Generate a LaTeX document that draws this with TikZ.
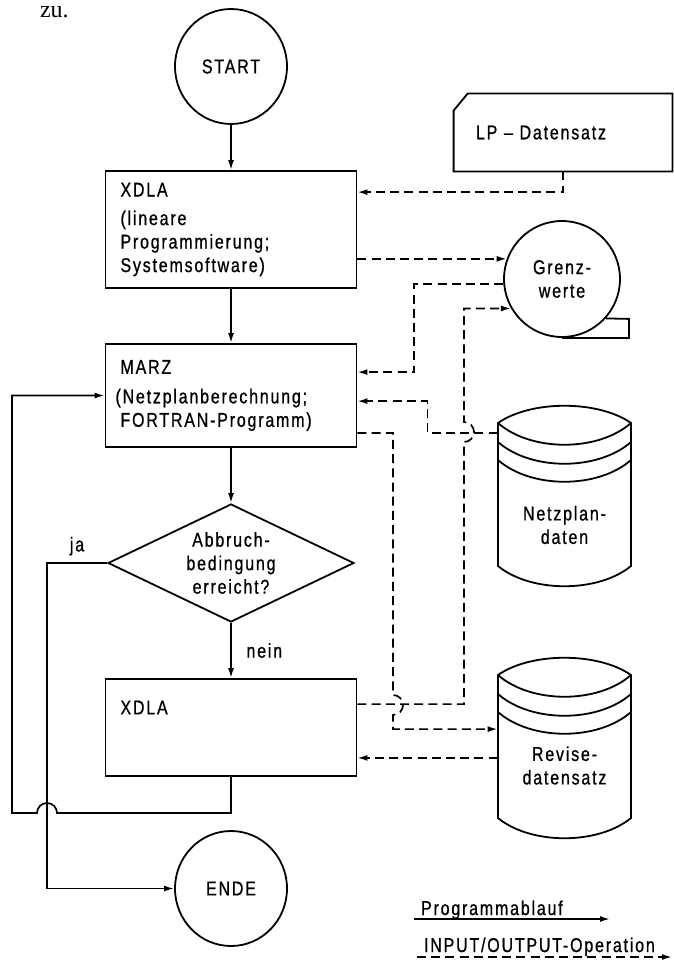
\documentclass[tikz,border=0pt]{standalone}
\usepackage{fontspec}
\setmainfont{Liberation Sans}[FakeStretch=0.8, LetterSpace=9, FakeBold=0.8]
\newfontfamily\bookfont{Liberation Serif}
\usetikzlibrary{arrows.meta, shapes.geometric, calc}

\tikzset{
  proc/.style={draw, line width=0.9pt, minimum width=125.5pt, text width=110.5pt, inner xsep=7.5pt, align=left},
  term/.style={draw, ellipse, line width=0.9pt, minimum width=56pt, minimum height=57.5pt, inner sep=0pt},
  decide/.style={draw, diamond, line width=0.9pt, aspect=2.08, minimum width=123pt, minimum height=59pt, inner sep=0pt, align=center},
  tape/.style={draw, circle, line width=0.9pt, minimum size=58pt, inner sep=0pt, align=center},
  drumtext/.style={minimum width=66.5pt, inner sep=0pt, align=center},
  flow/.style={line width=0.85pt, -{Latex[length=5pt,width=3pt]}},
  io/.style={flow, dash pattern=on 4.5pt off 2.6pt},
}

\begin{document}
\begin{tikzpicture}[x=0.5pt, y=-0.5pt, font=\fontsize{10}{11.75}\selectfont]
\useasboundingbox (0,0) rectangle (674,963);

\node[anchor=base west, font=\bookfont\fontsize{12}{14}\selectfont] (zu) at (33,18) {zu.};

% Programmablauf
\node[term] (start) at (231,66.5) {START};
\node[proc, minimum height=58.5pt] (xdla1) at (231,229.5) {XDLA\\[2.5pt](lineare\\Programmierung;\\Systemsoftware)};
\node[proc, minimum height=51.5pt] (marz) at (231,395.5) {MARZ\\[3pt]\hspace*{-2.5pt}(Netzplanberechnung;\\FORTRAN-Programm)};
\node[decide] (abbr) at (231,563) {Abbruch-\\bedingung\\erreicht?};
\node[proc, minimum height=48.5pt, text depth=20pt] (xdla2) at (231,727.5) {XDLA};
\node[term] (ende) at (231,888.5) {ENDE};

% Datentraeger
\node[minimum width=109pt, minimum height=38.5pt, text width=87pt, inner xsep=11pt, align=left] (lp) at (563,132.5) {LP – Datensatz};
\draw[line width=0.9pt] (lp.south west) -- ([yshift=-8.5pt]lp.north west) -- ([xshift=7pt]lp.north west)
  -- (lp.north east) -- (lp.south east) -- cycle;

\node[tape] (grenz) at (562,279) {Grenz-\\werte};
\draw[line width=0.9pt] (grenz.south) -- ++(67,0) -- ++(0,-19) -- (grenz.-42);

\foreach \ytop in {406,658} {
  \draw[line width=0.9pt]
    (498,\ytop+17) .. controls (531,\ytop-6) and (598,\ytop-6) .. (631,\ytop+17)
    -- (631,\ytop+160) .. controls (598,\ytop+187) and (531,\ytop+187) .. (498,\ytop+160) -- cycle;
  \foreach \band in {17,36,54}
    \draw[line width=0.9pt] (498,\ytop+\band) .. controls (531,\ytop+\band+29) and (598,\ytop+\band+29) .. (631,\ytop+\band);
}
\node[drumtext] (netz) at (564.5,525) {Netzplan-\\daten};
\node[drumtext] (revise) at (564.5,765.5) {Revise-\\datensatz};

% Ablauf
\draw[flow] (start) -- (xdla1);
\draw[flow] (xdla1) -- (marz);
\draw[flow] (marz) -- (abbr);
\draw[flow] (abbr) -- node[right, xshift=4pt] (nein) {nein} (xdla2);

\coordinate (jacorner) at (47,563);
\draw[flow] (abbr.west) -- node[above] (ja) {ja} (jacorner) |- (ende.west);

\coordinate (hopc) at (57,813);
\draw[flow] (xdla2.south) |- (hopc) arc[start angle=0, end angle=-180, radius=10] -- ++(-25,0) |- (marz.west);

% Ein-/Ausgabe
\coordinate (lpin) at ($(xdla1.north east)+(0,22)$);
\draw[io] (lp.south) |- (lpin);

\coordinate (grin) at (xdla1.east |- grenz.160);
\draw[io] (grin) -- (grenz.160);

\coordinate (marzin) at ($(marz.north east)+(0,29)$);
\draw[io] (grenz.185) -- ++(-89,0) |- (marzin);

\coordinate (marzout) at ($(marz.south east)+(0,-15)$);
\coordinate (netzin) at ($(marz.north east)+(0,58)$);
\draw[io] (marzout -| netz.west) -- ++(-70,0) |- (netzin);

\coordinate (hopa) at (393,695);
\coordinate (revin) at ($(xdla2.north east)+(0,51)$);
\draw[io] (marzout) -| (hopa) arc[start angle=-90, end angle=90, radius=10] |- (revin -| revise.west);

\coordinate (hopb) at (464,442);
\coordinate (xdout) at ($(xdla2.north east)+(0,26)$);
\draw[io] (xdout) -| (hopb) arc[start angle=90, end angle=-90, radius=10] |- (grenz.210);

\coordinate (revout) at ($(xdla2.south east)+(0,-19)$);
\draw[io] (revout -| revise.west) -- (revout);

% Legende
\node[anchor=base west] (legflow) at (414,915) {Programmablauf};
\node[anchor=base west] (legio) at (417,952) {INPUT/OUTPUT-Operation};
\coordinate (flowa) at (414,919);
\coordinate (flowb) at (610,919);
\draw[flow] (flowa) -- (flowb);
\coordinate (ioa) at (417,957);
\coordinate (iob) at (672,957);
\draw[io] (ioa) -- (iob);
\end{tikzpicture}
\end{document}
